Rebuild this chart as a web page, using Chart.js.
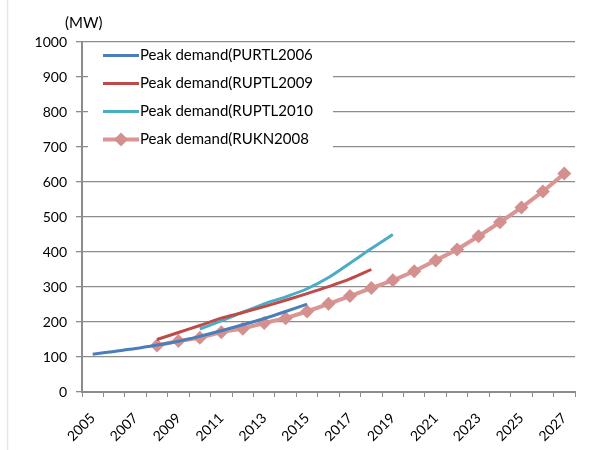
<!DOCTYPE html>
<html>
<head>
<meta charset="utf-8">
<script src="https://cdn.jsdelivr.net/npm/chart.js@4/dist/chart.umd.min.js"></script>
<style>
  html, body { margin: 0; padding: 0; background: #fff; }
  #wrap { width: 603px; height: 450px; position: relative; }
</style>
</head>
<body>
<div id="wrap"><canvas id="c" width="603" height="450"></canvas></div>
<script>
// Years on the category axis
const years = ['2005','2006','2007','2008','2009','2010','2011','2012','2013','2014','2015','2016',
               '2017','2018','2019','2020','2021','2022','2023','2024','2025','2026','2027'];

// Peak demand forecasts (MW); null where a plan does not cover the year
const purtl2006 = [108,116,124,134,145,159,175,192,210,230,251,
                   null,null,null,null,null,null,null,null,null,null,null,null];
const ruptl2009 = [null,null,null,150,170,190,211,227,244,262,281,301,323,350,
                   null,null,null,null,null,null,null,null,null];
const ruptl2010 = [null,null,null,null,null,180,203,228,252,272,295,327,368,410,450,
                   null,null,null,null,null,null,null,null];
const rukn2008  = [null,null,null,133,146,155,171,181,197,211,230,252,274,297,319,
                   345,376,407,445,485,527,573,624];

const seriesNames = ['Peak demand(PURTL2006','Peak demand(RUPTL2009','Peak demand(RUPTL2010','Peak demand(RUKN2008'];
const yTicks = [0,100,200,300,400,500,600,700,800,900,1000];
const unitLabel = '(MW)';

const FONT = 'Lato, "Liberation Sans", sans-serif';
const GRID = '#8c8c8c';

// Legend in the upper-left corner of the plot, on a white panel over the grid
const insetLegend = {
  id: 'insetLegend',
  beforeDatasetsDraw(chart) {
    const ctx = chart.ctx;
    const a = chart.chartArea;
    ctx.save();
    ctx.fillStyle = '#fff';
    ctx.fillRect(a.left + 6, a.top + 1, 245, 114);
    ctx.restore();
  },
  afterDatasetsDraw(chart) {
    const ctx = chart.ctx;
    const a = chart.chartArea;
    const x0 = a.left + 21, len = 36, step = 28;
    let y = a.top + 13.5;
    ctx.save();
    chart.data.datasets.forEach(ds => {
      ctx.strokeStyle = ds.borderColor;
      ctx.lineWidth = ds.borderWidth;
      ctx.lineCap = 'butt';
      ctx.beginPath();
      ctx.moveTo(x0, y);
      ctx.lineTo(x0 + len, y);
      ctx.stroke();
      if (ds.pointStyle === 'rectRot') {
        const r = ds.pointRadius;
        ctx.fillStyle = ds.pointBackgroundColor;
        ctx.beginPath();
        ctx.moveTo(x0 + len / 2, y - r);
        ctx.lineTo(x0 + len / 2 + r, y);
        ctx.lineTo(x0 + len / 2, y + r);
        ctx.lineTo(x0 + len / 2 - r, y);
        ctx.closePath();
        ctx.fill();
      }
      ctx.fillStyle = '#000';
      ctx.font = '15px ' + FONT;
      ctx.textBaseline = 'middle';
      ctx.textAlign = 'left';
      ctx.fillText(ds.label, x0 + len + 1, y);
      y += step;
    });
    // unit caption above the value axis
    ctx.font = '15px ' + FONT;
    ctx.textAlign = 'left';
    ctx.textBaseline = 'middle';
    ctx.fillText(unitLabel, 65, 23);
    ctx.restore();
  }
};

// Thin frame line on the left edge of the figure
const frame = {
  id: 'frame',
  beforeDraw(chart) {
    const ctx = chart.ctx;
    ctx.save();
    ctx.strokeStyle = '#ebe5da';
    ctx.lineWidth = 1.5;
    ctx.beginPath();
    ctx.moveTo(7.5, 0);
    ctx.lineTo(7.5, chart.height);
    ctx.stroke();
    ctx.restore();
  }
};

new Chart(document.getElementById('c'), {
  type: 'line',
  data: {
    labels: years,
    datasets: [
      { label: seriesNames[0], data: purtl2006, borderColor: '#4a7ebb', borderWidth: 3,
        pointRadius: 0, cubicInterpolationMode: 'monotone' },
      { label: seriesNames[1], data: ruptl2009, borderColor: '#be4b48', borderWidth: 3,
        pointRadius: 0, cubicInterpolationMode: 'monotone' },
      { label: seriesNames[2], data: ruptl2010, borderColor: '#4bacc6', borderWidth: 3,
        pointRadius: 0, cubicInterpolationMode: 'monotone' },
      { label: seriesNames[3], data: rukn2008, borderColor: '#d99694', borderWidth: 4,
        pointStyle: 'rectRot', pointRadius: 7, pointBackgroundColor: '#d4908e',
        pointBorderWidth: 0, pointHoverRadius: 7, tension: 0 }
    ]
  },
  options: {
    responsive: false,
    animation: false,
    events: [],
    layout: { padding: { left: 0, right: 28, top: 42, bottom: 0 } },
    plugins: { legend: { display: false }, tooltip: { enabled: false } },
    scales: {
      x: {
        type: 'category',
        offset: true,
        afterFit(scale) { scale.height = 58; },
        grid: { offset: true, drawOnChartArea: false, drawTicks: true, tickLength: 5,
                color: GRID, lineWidth: 1 },
        border: { color: GRID, width: 2 },
        ticks: {
          autoSkip: false, maxRotation: 45, minRotation: 45, padding: 13,
          color: '#000', font: { family: FONT, size: 14 },
          callback(v, i) { return i % 2 === 0 ? years[i] : ''; }
        }
      },
      y: {
        min: 0, max: 1000,
        afterFit(scale) { scale.width = 82; },
        afterBuildTicks(scale) { scale.ticks = yTicks.map(v => ({ value: v })); },
        grid: { color: GRID, lineWidth: 1.3, drawTicks: true, tickLength: 6 },
        border: { color: GRID, width: 2 },
        ticks: { padding: 9, color: '#000', font: { family: FONT, size: 14 },
                 callback(v) { return String(v); } }
      }
    }
  },
  plugins: [frame, insetLegend]
});
</script>
</body>
</html>
